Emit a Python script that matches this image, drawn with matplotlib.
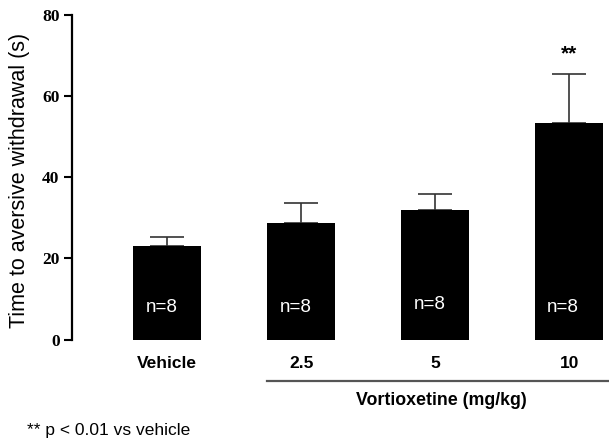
import matplotlib.pyplot as plt

# Data
groups = ["Vehicle", "2.5", "5", "10"]
means = [23.0, 28.6, 32.0, 53.3]
sem = [2.2, 5.1, 3.8, 12.0]
n_labels = ["n=8", "n=8", "n=8", "n=8"]
n_label_y = [7.8, 8.0, 8.6, 8.0]
yticks = [0, 20, 40, 60, 80]

plt.rcParams["font.family"] = ["Liberation Sans", "DejaVu Sans"]

fig = plt.figure(figsize=(6.09, 4.43), dpi=100)
ax = fig.add_axes([72 / 609, (443 - 339.5) / 443, 1 - 72 / 609, 325 / 443])

x = list(range(len(groups)))
ax.bar(x, means, width=0.507, color="black", zorder=2)
ax.errorbar(x, means, yerr=[[0] * len(sem), sem], fmt="none",
            ecolor="#333333", elinewidth=1.2, capsize=12, capthick=1.2, zorder=1)

for xi, lab, ny in zip(x, n_labels, n_label_y):
    ax.text(xi - 0.045, ny, lab, color="white", fontsize=13.5,
            ha="center", va="center", zorder=3)

# significance
ax.text(3, 70.2, "**", fontsize=15, fontweight="bold", ha="center", va="center")

ax.set_xlim(-0.712, 3.297)
ax.set_ylim(0, 80)
ax.set_yticks(yticks)
ax.set_yticklabels([str(t) for t in yticks], family="Liberation Serif",
                   fontweight="bold", fontsize=12.5)
ax.tick_params(axis="y", length=6, width=1.5, pad=3)
ax.set_xticks([])

for s in ["top", "right", "bottom"]:
    ax.spines[s].set_visible(False)
ax.spines["left"].set_linewidth(1.6)

for xi, g in zip(x, groups):
    ax.text(xi, -6.0, g, fontsize=12.5, fontweight="bold",
            ha="center", va="center", clip_on=False)

ax.plot([0.741, 3.297], [-10.1, -10.1], color="#555555", lw=1.6, clip_on=False)
ax.text(2.045, -15.1, "Vortioxetine (mg/kg)", fontsize=12.8, fontweight="bold",
        ha="center", va="center", clip_on=False)

fig.text(20 / 609, (443 - 180) / 443, "Time to aversive withdrawal (s)",
         rotation=90, fontsize=15.5, ha="center", va="center")
fig.text(27 / 609, (443 - 431) / 443, "** p < 0.01 vs vehicle",
         fontsize=12.5, ha="left", va="center")

fig.savefig("out.png", dpi=100)
